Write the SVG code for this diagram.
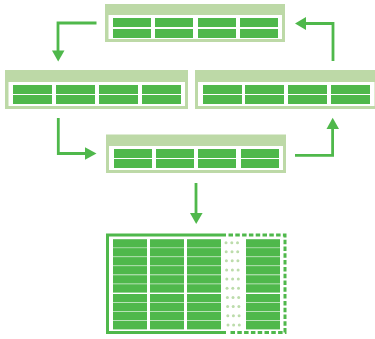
<svg xmlns="http://www.w3.org/2000/svg" width="375" height="339" viewBox="0 0 375 339">
<style>
.o{fill:#bdd9a7}
.i{fill:#fff}
.c{fill:#4fb84b}
.l{fill:none;stroke:#4fb84b;stroke-width:2.8}
.h{fill:#4fb84b}
.d{fill:#bcdcab}
</style>
<defs>
<g id="r2"><rect class="c" width="38" height="9"/><rect class="c" y="11" width="38" height="9"/></g>
<g id="r3"><rect class="c" width="39" height="9"/><rect class="c" y="10" width="39" height="9"/></g>
<g id="r4"><rect class="c" width="38" height="9"/><rect class="c" y="10" width="38" height="9"/></g>
<g id="row5"><rect class="c" x="113" width="34" height="8.400"/><rect class="c" x="150" width="34" height="8.400"/><rect class="c" x="187" width="34" height="8.400"/><rect class="c" x="246" width="34" height="8.400"/></g>
</defs>
<rect width="375" height="339" fill="#fff"/>
<g id="connectors">
<path class="l" d="M96.500 23H58V52"/><path class="h" d="M52 50.500H64.500L58.200 61.500Z"/>
<path class="l" d="M58.300 118V153.500H86"/><path class="h" d="M85 147.300V159.700L96.500 153.500Z"/>
<path class="l" d="M295 155.400H332.600V128"/><path class="h" d="M326.500 129H339L332.700 117.700Z"/>
<path class="l" d="M333 61V23.500H304"/><path class="h" d="M306 17V30L295 23.500Z"/>
<path class="l" d="M196 183V214"/><path class="h" d="M190 213H202.600L196.200 224Z"/>
</g>
<g id="node-top">
<rect class="o" x="105" y="4" width="180" height="38"/><rect class="i" x="108.500" y="15" width="173.500" height="24"/>
<use href="#r2" x="113" y="18"/><use href="#r2" x="155" y="18"/><use href="#r2" x="198" y="18"/><use href="#r2" x="240" y="18"/>
</g>
<g id="node-left">
<rect class="o" x="5" y="70" width="183" height="39"/><rect class="i" x="8.500" y="82" width="176.500" height="24"/>
<use href="#r3" x="13" y="85"/><use href="#r3" x="56" y="85"/><use href="#r3" x="99" y="85"/><use href="#r3" x="142" y="85"/>
</g>
<g id="node-right">
<rect class="o" x="195" y="70" width="180" height="39"/><rect class="i" x="198" y="82" width="176.500" height="24"/>
<use href="#r3" x="203" y="85"/><use href="#r3" x="245" y="85"/><use href="#r3" x="288" y="85"/><use href="#r3" x="331" y="85"/>
</g>
<g id="node-middle">
<rect class="o" x="106" y="134.500" width="180" height="38.500"/><rect class="i" x="109" y="146" width="174" height="24"/>
<use href="#r4" x="114" y="149"/><use href="#r4" x="156" y="149"/><use href="#r4" x="198" y="149"/><use href="#r4" x="241" y="149"/>
</g>
<g id="node-table">
<path d="M226 235H107.500V332.500H226" fill="none" stroke="#4fb84b" stroke-width="3"/>
<path d="M228.500 235H285V332.500H228.500" fill="none" stroke="#4fb84b" stroke-width="3" stroke-dasharray="4.500 2.300"/>
<use href="#row5" y="239.200"/><use href="#row5" y="248.100"/><use href="#row5" y="257.100"/><use href="#row5" y="266.100"/><use href="#row5" y="275.200"/><use href="#row5" y="284.200"/><use href="#row5" y="294"/><use href="#row5" y="303"/><use href="#row5" y="312"/><use href="#row5" y="321"/>
<g class="d">
<circle cx="226" cy="242.700" r="1.500"/><circle cx="231.800" cy="242.700" r="1.500"/><circle cx="237.500" cy="242.700" r="1.500"/>
<circle cx="226.200" cy="251.700" r="1.500"/><circle cx="232" cy="251.700" r="1.500"/><circle cx="237.700" cy="251.700" r="1.500"/>
<circle cx="226.400" cy="260.700" r="1.500"/><circle cx="232.200" cy="260.700" r="1.500"/><circle cx="237.900" cy="260.700" r="1.500"/>
<circle cx="226.600" cy="270" r="1.500"/><circle cx="232.400" cy="270" r="1.500"/><circle cx="238.100" cy="270" r="1.500"/>
<circle cx="226.800" cy="279" r="1.500"/><circle cx="232.600" cy="279" r="1.500"/><circle cx="238.300" cy="279" r="1.500"/>
<circle cx="227" cy="288.300" r="1.500"/><circle cx="232.800" cy="288.300" r="1.500"/><circle cx="238.500" cy="288.300" r="1.500"/>
<circle cx="227.400" cy="297.500" r="1.500"/><circle cx="233" cy="297.500" r="1.500"/><circle cx="238.700" cy="297.500" r="1.500"/>
<circle cx="227.600" cy="306.500" r="1.500"/><circle cx="233.200" cy="306.500" r="1.500"/><circle cx="238.900" cy="306.500" r="1.500"/>
<circle cx="227.800" cy="315.700" r="1.500"/><circle cx="233.400" cy="315.700" r="1.500"/><circle cx="239.100" cy="315.700" r="1.500"/>
<circle cx="228" cy="325" r="1.500"/><circle cx="233.600" cy="325" r="1.500"/><circle cx="239.300" cy="325" r="1.500"/>
</g>
</g>
</svg>
